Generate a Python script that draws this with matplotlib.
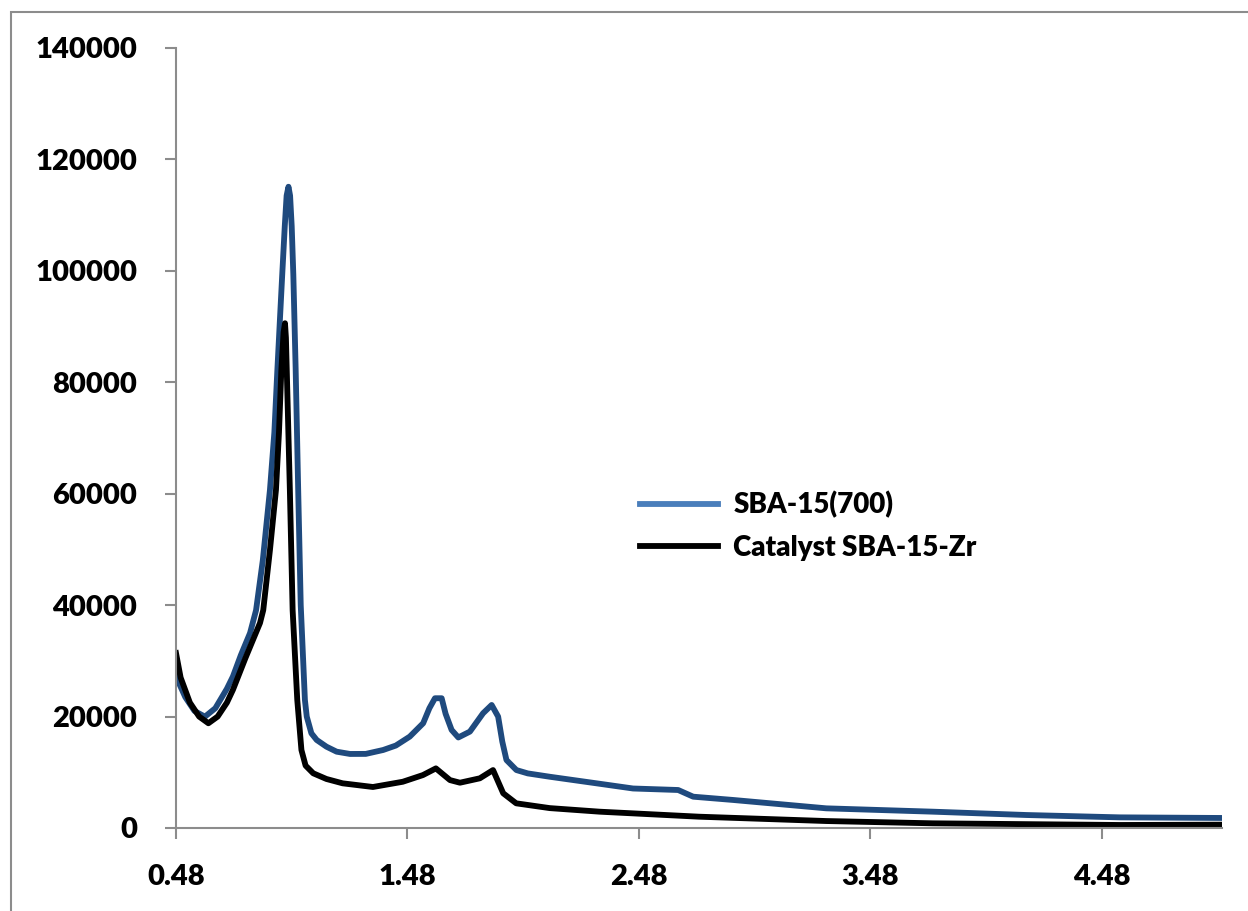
import matplotlib.pyplot as plt
from matplotlib.lines import Line2D
from matplotlib.patches import Rectangle

# SBA-15(700)
sba_x = [0.48, 0.52, 0.56, 0.605, 0.65, 0.70, 0.726, 0.76, 0.80, 0.826, 0.855,
         0.886, 0.905, 0.918, 0.930, 0.939, 0.950, 0.958, 0.966, 0.973, 0.980,
         0.987, 0.997, 1.008, 1.019, 1.037, 1.045, 1.065, 1.088, 1.13, 1.174,
         1.232, 1.30, 1.375, 1.43, 1.49, 1.548, 1.575, 1.599, 1.628, 1.645,
         1.671, 1.70, 1.75, 1.807, 1.844, 1.872, 1.89, 1.908, 1.951, 2.0,
         2.095, 2.297, 2.455, 2.65, 2.715, 2.888, 3.29, 3.75, 4.155, 4.558,
         5.0]
sba_y = [27200, 23500, 21000, 19980, 21500, 25000, 27200, 31000, 35000, 39100,
         48000, 60700, 71000, 82200, 92000, 99300, 108000, 113500, 115100,
         113500, 108000, 99300, 82500, 60700, 40000, 23000, 20000, 17000,
         15800, 14600, 13700, 13290, 13300, 14000, 14800, 16400, 18800, 21500,
         23290, 23290, 20500, 17600, 16250, 17300, 20600, 22080, 20000, 15500,
         12200, 10400, 9800, 9200, 8020, 7090, 6820, 5620, 5030, 3530, 2930,
         2330, 1910, 1800]

# Catalyst SBA-15-Zr
zr_x = [0.48, 0.50, 0.54, 0.58, 0.62, 0.66, 0.70, 0.726, 0.78, 0.843, 0.857,
        0.886, 0.912, 0.925, 0.935, 0.945, 0.951, 0.955, 0.960, 0.972, 0.984,
        1.004, 1.022, 1.04, 1.073, 1.13, 1.2, 1.331, 1.46, 1.547, 1.603, 1.664,
        1.707, 1.793, 1.85, 1.894, 1.95, 2.095, 2.31, 2.74, 3.29, 3.75, 4.558,
        5.0]
zr_y = [31400, 27000, 22500, 20000, 18800, 20000, 22500, 24800, 30500, 36800,
        39100, 49900, 60700, 71000, 82000, 89000, 90600, 88000, 80000, 60700,
        39100, 23000, 14000, 11200, 9820, 8800, 8020, 7360, 8300, 9500, 10700,
        8600, 8130, 8920, 10400, 6230, 4430, 3570, 2930, 2030, 1250, 840, 540,
        600]

labels = ["SBA-15(700)", "Catalyst SBA-15-Zr"]
x_ticks = [0.48, 1.48, 2.48, 3.48, 4.48]
y_ticks = [0, 20000, 40000, 60000, 80000, 100000, 120000, 140000]

plt.rcParams["font.family"] = ["Lato", "DejaVu Sans"]
plt.rcParams["font.weight"] = "heavy"

fig = plt.figure(figsize=(12.48, 9.11), dpi=100)
ax = fig.add_axes([176 / 1248, 1 - 828 / 911, (1222 - 176) / 1248, (828 - 48) / 911])

ax.plot(sba_x, sba_y, color="#1F4A7E", lw=4.2, solid_joinstyle="round")
ax.plot(zr_x, zr_y, color="black", lw=4.2, solid_joinstyle="round")

ax.set_xlim(0.48, 5.0)
ax.set_ylim(0, 140000)
ax.set_xticks(x_ticks)
ax.set_xticklabels([f"{t:.2f}" for t in x_ticks])
ax.set_yticks(y_ticks)
ax.set_yticklabels([str(t) for t in y_ticks])

for side in ("top", "right"):
    ax.spines[side].set_visible(False)
for side in ("left", "bottom"):
    ax.spines[side].set_color("#8C8C8C")
    ax.spines[side].set_linewidth(1.5)
ax.tick_params(axis="both", colors="#8C8C8C", width=1.5, length=8,
               labelcolor="black", labelsize=21)
ax.tick_params(axis="y", pad=20)
ax.tick_params(axis="x", pad=18)
for lbl in ax.get_xticklabels() + ax.get_yticklabels():
    lbl.set_fontweight("heavy")

handles = [Line2D([], [], color="#4A7EBB", lw=4.2),
           Line2D([], [], color="black", lw=4.2)]
ax.legend(handles, labels, loc="center left", bbox_to_anchor=(0.42, 0.387),
          frameon=False, prop={"size": 20, "weight": "heavy"},
          handlelength=2.8, handletextpad=0.55, labelspacing=0.6)

fig.patches.append(Rectangle((11 / 1248, -0.05), 1.2, 1.05 - 11.5 / 911,
                             transform=fig.transFigure, fill=False,
                             edgecolor="#8C8C8C", lw=1.5))

fig.savefig("out.png", dpi=100)
